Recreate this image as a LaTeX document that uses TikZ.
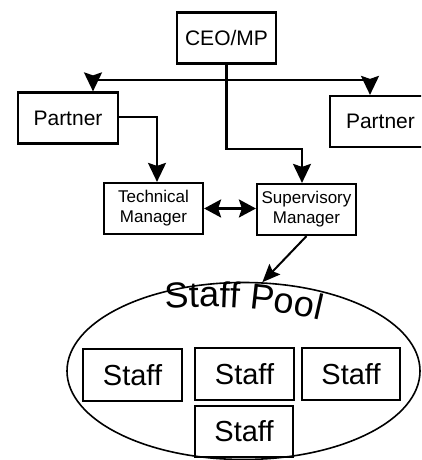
\documentclass[tikz,border=0pt]{standalone}
\usepackage{fontspec}
\setmainfont{Liberation Sans}
\usetikzlibrary{arrows.meta,decorations.text,shapes.geometric}
\begin{document}
\begin{tikzpicture}[x=1pt,y=1pt,
  box/.style={draw,line width=2.2pt,minimum width=99pt,minimum height=51pt,inner sep=0pt,align=center},
  big/.style={font=\fontsize{21pt}{24pt}\selectfont},
  mid/.style={font=\fontsize{17pt}{20pt}\selectfont},
  stf/.style={font=\fontsize{29pt}{32pt}\selectfont},
  head/.style={Stealth[length=19pt,width=18pt,inset=3pt]},
  conn/.style={line width=2.2pt,-{Stealth[length=19pt,width=18pt,inset=3pt]}},
  line/.style={line width=2.2pt}]
\useasboundingbox (0,0) rectangle (421,460);
\begin{scope}
\clip (0,0) rectangle (421,460);
\node[box,big] (ceo) at (226.5,422) {CEO/MP};
\node[box,big,minimum width=100pt] (p1) at (68,342) {Partner};
\node[box,big,minimum width=100pt,text width=100pt,align=left] (p2) at (380,338.5) {\hspace*{16pt}Partner};
\node[box,mid] (tm) at (153.5,251.5) {Technical\\Manager};
\node[box,mid] (sm) at (306.5,250.5) {Supervisory\\Manager};
\node[draw,ellipse,line width=1.6pt,minimum width=353pt,minimum height=177pt,inner sep=0pt] (pool) at (243.5,89) {};
\node[box,stf,minimum height=52pt] (s1) at (132.5,85) {Staff};
\node[box,stf,minimum height=52pt] (s2) at (244.5,86) {Staff};
\node[box,stf,minimum width=98pt,minimum height=52pt] (s3) at (351,86) {Staff};
\node[box,stf,minimum width=98pt] (s4) at (244,28.5) {Staff};
\path[decorate,decoration={text along path,text align=center,
  text={|\fontsize{36pt}{36pt}\selectfont|Staff Pool}}]
  (112.7,144.4) arc[start angle=100.64,end angle=70.64,radius=500];
\coordinate (hl) at (93,380);
\coordinate (hr) at (370,380);
\coordinate (c1) at (302,311);
\coordinate (c2) at (157,343);
\draw[line] (hl) -- (hr);
\draw[conn] (hl) -- (hl |- p1.north);
\draw[conn] (hr) -- (hr |- p2.north);
\draw[conn] (ceo.south) |- (c1) -- (c1 |- sm.north);
\draw[conn] (p1.east |- c2) -- (c2) -- (c2 |- tm.north);
\draw[line width=2.6pt,{Stealth[length=17pt,width=18pt,inset=3pt]}-{Stealth[length=17pt,width=18pt,inset=3pt]}] (tm.east) -- (tm.east -| sm.west);
\draw[line width=2pt,-{Stealth[length=18pt,width=15pt,inset=3pt]}] (sm.south) -- (pool.78);
\end{scope}
\end{tikzpicture}
\end{document}
